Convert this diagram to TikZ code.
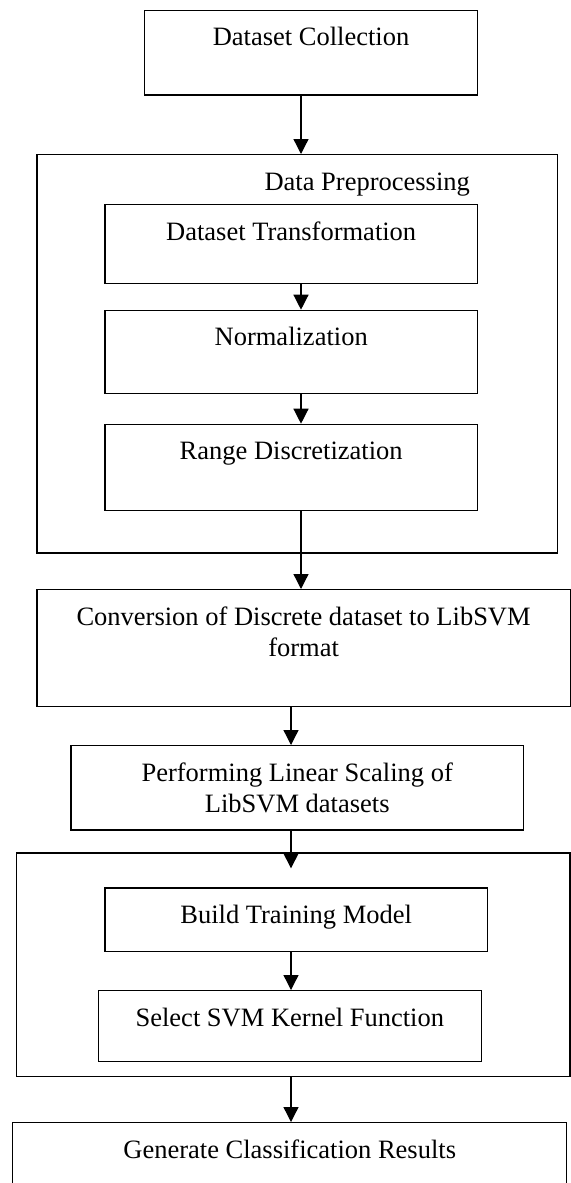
\documentclass[tikz,border=0pt]{standalone}
\usepackage{fontspec}
\setmainfont{Liberation Serif}
\usetikzlibrary{positioning,arrows.meta,calc}

\tikzset{
  stage/.style 2 args={draw,line width=.65pt,inner sep=0pt,anchor=north,
    text height=17.7pt,minimum width=#1,text depth=#2},
  group/.style 2 args={draw,line width=.65pt,anchor=north,
    minimum width=#1,minimum height=#2},
  flow/.style={line width=.65pt,-{Triangle[length=7.5pt,width=7.5pt]}}
}

\begin{document}
\begin{tikzpicture}[x=0.5pt,y=-0.5pt,font=\fontsize{13.25pt}{15.8pt}\selectfont]
  \clip (0,0) rectangle (571,1183);
  \coordinate (colA) at (301,0);
  \coordinate (colB) at (291,0);

  \node[stage={166.4pt}{24.6pt}] (dc) at (311,9.7) {Dataset Collection};

  % preprocessing block
  \node[group={260.35pt}{199.15pt}] (prep) at (297.2,154) {};
  \node[anchor=base] (preplabel) at ($(prep.north)+(70,36)$) {Data Preprocessing};
  \node[stage={186.25pt}{21.8pt}] (trans) at (291.2,204) {Dataset Transformation};
  \node[stage={186.25pt}{23.8pt}] (norm) at (291.2,309.7) {Normalization};
  \node[stage={186.25pt}{25.45pt}] (disc) at (291.2,423.7) {Range Discretization};

  \node[stage={266.75pt}{40.8pt}] (conv) at (303.6,589)
    {\begin{tabular}[t]{@{}c@{}}Conversion of Discrete dataset to LibSVM\\format\end{tabular}};
  \node[stage={226.15pt}{24.45pt}] (scale) at (297.2,745)
    {\begin{tabular}[t]{@{}c@{}}Performing Linear Scaling of\\LibSVM datasets\end{tabular}};

  % training block
  \node[group={276.8pt}{111.7pt}] (train) at (293.2,852.3) {};
  \node[stage={191.3pt}{14pt}] (build) at (296.2,887.3) {Build Training Model};
  \node[stage={191.45pt}{17.65pt}] (kernel) at (289.8,990) {Select SVM Kernel Function};

  \node[stage={277pt}{32.3pt}] (gen) at (289.7,1122) {Generate Classification Results};

  \coordinate (entry) at ($(train.north -| colB)+(0,16)$);

  \draw[flow] (dc.south -| colA) -- (prep.north -| colA);
  \draw[flow] (trans.south -| colA) -- (norm.north -| colA);
  \draw[flow] (norm.south -| colA) -- (disc.north -| colA);
  \draw[flow] (disc.south -| colA) -- (conv.north -| colA);
  \draw[flow] (conv.south -| colB) -- (scale.north -| colB);
  \draw[flow] (scale.south -| colB) -- (entry);
  \draw[flow] (build.south -| colB) -- (kernel.north -| colB);
  \draw[flow] (train.south -| colB) -- (gen.north -| colB);
\end{tikzpicture}
\end{document}
